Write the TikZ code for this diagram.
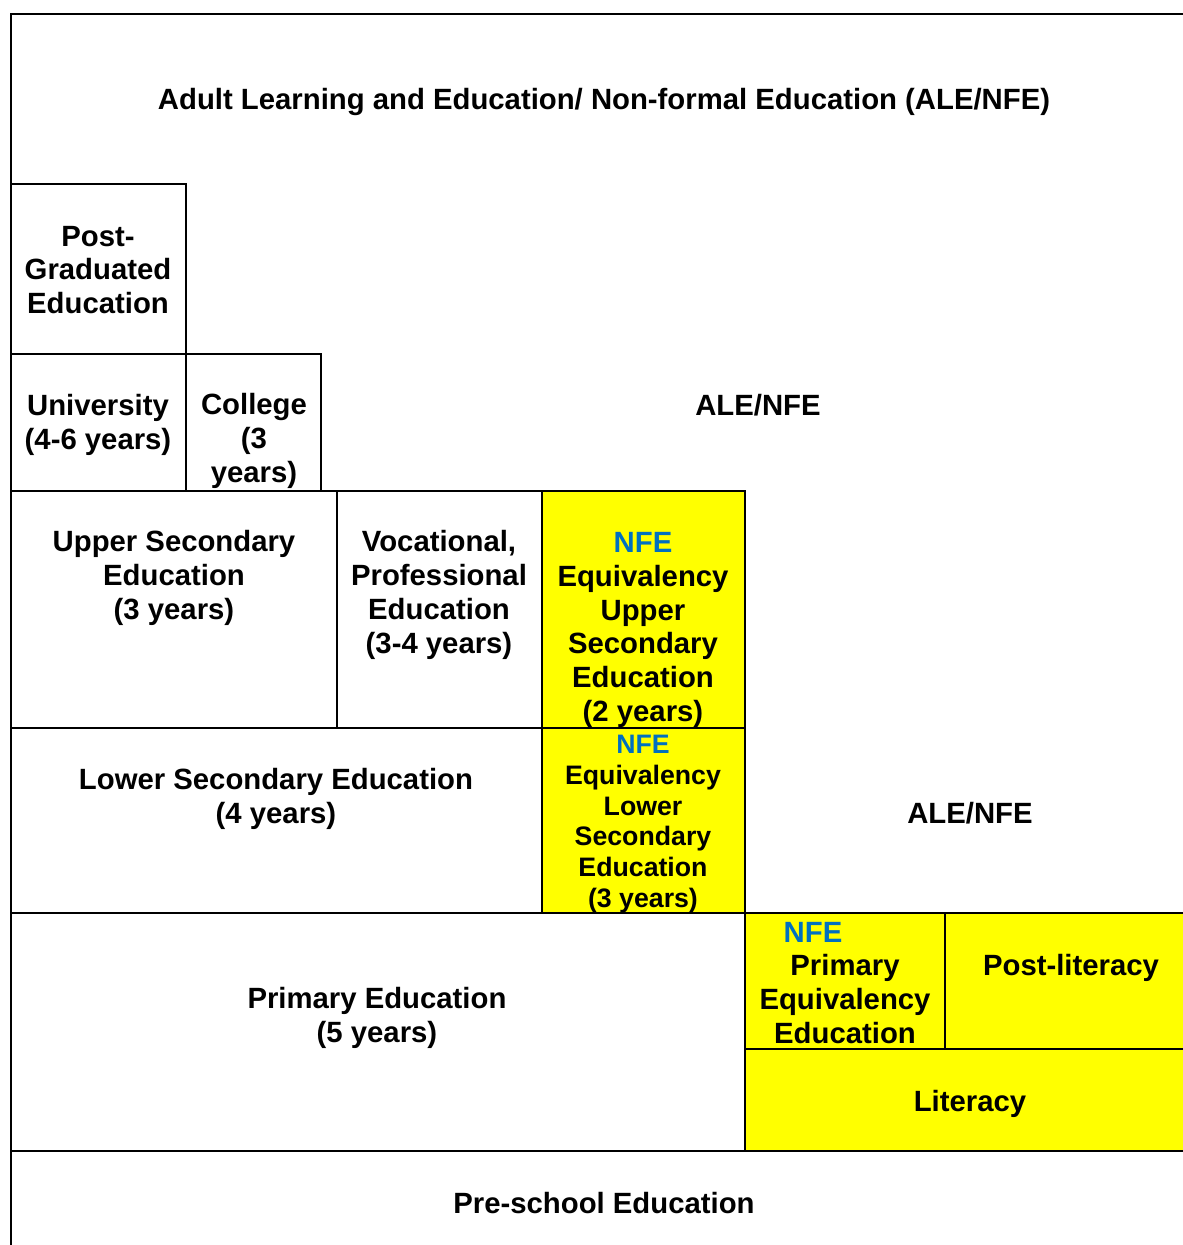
\documentclass[tikz,border=0pt]{standalone}
\usepackage{fontspec}
\setmainfont{Liberation Sans}
\definecolor{nfeblue}{HTML}{0070C0}
\definecolor{cellyellow}{HTML}{FFFF00}
\begin{document}
\begin{tikzpicture}[x=1pt,y=-1pt,
  rule/.style={line width=2pt,line cap=rect},
  lbl/.style={align=center,inner sep=0pt,font=\fontsize{29.3}{33.8}\selectfont\bfseries},
  small/.style={align=center,inner sep=0pt,font=\fontsize{26.7}{30.7}\selectfont\bfseries},
  nfe/.style={text=nfeblue}]
\useasboundingbox (0,0) rectangle (1183,1245);
% yellow NFE cells
\fill[cellyellow] (542,491) rectangle (745,913);
\fill[cellyellow] (745,913) rectangle (1200,1151);
% outer frame (runs off the right and bottom)
\draw[rule] (1200,14) -- (11,14) -- (11,1260);
% grid
\draw[rule] (11,184) -- (186,184) -- (186,491);
\draw[rule] (11,354) -- (321,354) -- (321,491);
\draw[rule] (11,491) -- (745,491) -- (745,1151);
\draw[rule] (337,491) -- (337,728);
\draw[rule] (542,491) -- (542,913);
\draw[rule] (11,728) -- (745,728);
\draw[rule] (11,913) -- (1200,913);
\draw[rule] (945,913) -- (945,1049);
\draw[rule] (745,1049) -- (1200,1049);
\draw[rule] (11,1151) -- (1200,1151);
% labels
\node[lbl] (ale) at (604,102) {Adult Learning and Education/ Non-formal Education (ALE/NFE)};
\node[lbl] (pg) at (98,270) {Post-\\Graduated\\Education};
\node[lbl] (uni) at (98,425) {University\\(4-6 years)};
\node[lbl] (col) at (254,441) {College\\(3\\years)};
\node[lbl] (ale2) at (758,405) {ALE/NFE};
\node[lbl] (usec) at (174,578) {Upper Secondary\\Education\\(3 years)};
\node[lbl] (voc) at (439,595) {Vocational,\\Professional\\Education\\(3-4 years)};
\node[lbl] (nfeus) at (643,630) {\textcolor{nfeblue}{NFE}\\Equivalency\\Upper\\Secondary\\Education\\(2 years)};
\node[lbl] (lsec) at (276,799) {Lower Secondary Education\\(4 years)};
\node[small] (nfels) at (643,824) {\textcolor{nfeblue}{NFE}\\Equivalency\\Lower\\Secondary\\Education\\(3 years)};
\node[lbl] (ale3) at (970,813) {ALE/NFE};
\node[lbl] (prim) at (377,1018) {Primary Education\\(5 years)};
\node[lbl,nfe] (nfep) at (813,932) {NFE};
\node[lbl] (pe) at (845,999) {Primary\\Equivalency\\Education};
\node[lbl] (post) at (1071,968) {Post-literacy};
\node[lbl] (lit) at (970,1104) {Literacy};
\node[lbl] (pre) at (604,1203) {Pre-school Education};
\end{tikzpicture}
\end{document}
